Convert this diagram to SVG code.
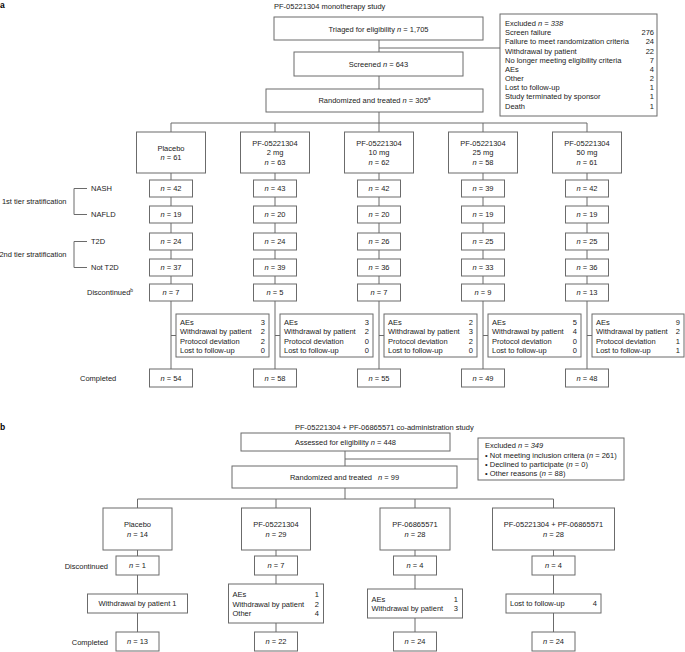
<svg xmlns="http://www.w3.org/2000/svg" width="685" height="652" viewBox="0 0 685 652">
<style>
text{font-family:"Liberation Sans",Arial,Helvetica,sans-serif;font-size:7.5px;fill:#222}
.c{text-anchor:middle}
.e{text-anchor:end}
.i{font-style:italic}
.lbl{font-weight:bold;font-size:8.5px;fill:#000}
.box{fill:#fff;stroke:#6b6b6b;stroke-width:1}
.ln{stroke:#6b6b6b;stroke-width:1;fill:none}
.sup{font-size:5px}
</style>
<rect width="685" height="652" fill="#fff"/>

<!-- ================= PART A ================= -->
<text class="lbl" x="0" y="8">a</text>
<text x="274" y="9">PF-05221304 monotherapy study</text>

<g id="connectors-a">
<path class="ln" d="M379,40V89M379,48H500M379,112V123M171,123H587M171,123V132M275,123V132M379,123V132M483,123V132M587,123V132"/>
<path class="ln" d="M171,173V369M275,173V369M379,173V369M483,173V369M587,173V369"/>
<path class="ln" d="M171,335.5H176M275,335.5H280M379,335.5H384M483,335.5H488M587,335.5H592"/>
<path class="ln" d="M87,188.5H74V214.5H87M87,241.5H74V267.5H87"/>
</g>

<g id="triage"><rect class="box" x="274" y="17" width="209" height="23"/>
<text class="c" x="378.5" y="31.5">Triaged for eligibility <tspan class="i">n</tspan> = 1,705</text></g>
<g id="screened"><rect class="box" x="294" y="52" width="169" height="24"/>
<text class="c" x="378.5" y="66.7">Screened <tspan class="i">n</tspan> = 643</text></g>
<g id="randomized-a"><rect class="box" x="266" y="89" width="217" height="23"/>
<text class="c" x="374.5" y="103">Randomized and treated <tspan class="i">n</tspan> = 305<tspan class="sup" dy="-3">a</tspan></text></g>

<g id="excluded-a"><rect class="box" x="500" y="14" width="157" height="102"/>
<text x="505" y="25.7">Excluded <tspan class="i">n = 338</tspan></text>
<text x="505" y="35.2">Screen failure</text><text class="e" x="654" y="35.2">276</text>
<text x="505" y="44.4">Failure to meet randomization criteria</text><text class="e" x="654" y="44.4">24</text>
<text x="505" y="53.5">Withdrawal by patient</text><text class="e" x="654" y="53.5">22</text>
<text x="505" y="62.7">No longer meeting eligibility criteria</text><text class="e" x="654" y="62.7">7</text>
<text x="505" y="71.9">AEs</text><text class="e" x="654" y="71.9">4</text>
<text x="505" y="81">Other</text><text class="e" x="654" y="81">2</text>
<text x="505" y="90.2">Lost to follow-up</text><text class="e" x="654" y="90.2">1</text>
<text x="505" y="99.4">Study terminated by sponsor</text><text class="e" x="654" y="99.4">1</text>
<text x="505" y="108.5">Death</text><text class="e" x="654" y="108.5">1</text>
</g>

<g id="row-labels-a">
<text class="e" x="66.5" y="204.2">1st tier stratification</text>
<text class="e" x="66.5" y="257.2">2nd tier stratification</text>
<text x="91" y="191.2">NASH</text>
<text x="91" y="217.2">NAFLD</text>
<text x="91" y="244.2">T2D</text>
<text x="91" y="270.2">Not T2D</text>
<text x="87" y="295.2">Discontinued<tspan class="sup" dy="-3">b</tspan></text>
<text x="80" y="380.7">Completed</text>
</g>

<!-- Placebo -->
<g id="arm-a-placebo">
<rect class="box" x="136.5" y="132" width="69" height="41"/>
<text class="c" x="171" y="150.5">Placebo</text><text class="c" x="171" y="160"><tspan class="i">n</tspan> = 61</text>
<rect class="box" x="149.5" y="180" width="43" height="17"/><text class="c" x="171" y="191.2"><tspan class="i">n</tspan> = 42</text>
<rect class="box" x="149.5" y="206" width="43" height="17"/><text class="c" x="171" y="217.2"><tspan class="i">n</tspan> = 19</text>
<rect class="box" x="149.5" y="233" width="43" height="17"/><text class="c" x="171" y="244.2"><tspan class="i">n</tspan> = 24</text>
<rect class="box" x="149.5" y="259" width="43" height="17"/><text class="c" x="171" y="270.2"><tspan class="i">n</tspan> = 37</text>
<rect class="box" x="149.5" y="284" width="43" height="17"/><text class="c" x="171" y="295.2"><tspan class="i">n</tspan> = 7</text>
<rect class="box" x="176" y="314" width="93" height="43"/>
<text x="180" y="324.5">AEs</text><text class="e" x="265" y="324.5">3</text>
<text x="180" y="334">Withdrawal by patient</text><text class="e" x="265" y="334">2</text>
<text x="180" y="343.5">Protocol deviation</text><text class="e" x="265" y="343.5">2</text>
<text x="180" y="353">Lost to follow-up</text><text class="e" x="265" y="353">0</text>
<rect class="box" x="149.5" y="369" width="43" height="18"/><text class="c" x="171" y="380.7"><tspan class="i">n</tspan> = 54</text>
</g>

<!-- 2 mg -->
<g id="arm-a-2mg">
<rect class="box" x="240.5" y="132" width="69" height="41"/>
<text class="c" x="275" y="145.7">PF-05221304</text><text class="c" x="275" y="155.2">2 mg</text><text class="c" x="275" y="164.7"><tspan class="i">n</tspan> = 63</text>
<rect class="box" x="253.5" y="180" width="43" height="17"/><text class="c" x="275" y="191.2"><tspan class="i">n</tspan> = 43</text>
<rect class="box" x="253.5" y="206" width="43" height="17"/><text class="c" x="275" y="217.2"><tspan class="i">n</tspan> = 20</text>
<rect class="box" x="253.5" y="233" width="43" height="17"/><text class="c" x="275" y="244.2"><tspan class="i">n</tspan> = 24</text>
<rect class="box" x="253.5" y="259" width="43" height="17"/><text class="c" x="275" y="270.2"><tspan class="i">n</tspan> = 39</text>
<rect class="box" x="253.5" y="284" width="43" height="17"/><text class="c" x="275" y="295.2"><tspan class="i">n</tspan> = 5</text>
<rect class="box" x="280" y="314" width="93" height="43"/>
<text x="284" y="324.5">AEs</text><text class="e" x="369" y="324.5">3</text>
<text x="284" y="334">Withdrawal by patient</text><text class="e" x="369" y="334">2</text>
<text x="284" y="343.5">Protocol deviation</text><text class="e" x="369" y="343.5">0</text>
<text x="284" y="353">Lost to follow-up</text><text class="e" x="369" y="353">0</text>
<rect class="box" x="253.5" y="369" width="43" height="18"/><text class="c" x="275" y="380.7"><tspan class="i">n</tspan> = 58</text>
</g>

<!-- 10 mg -->
<g id="arm-a-10mg">
<rect class="box" x="344.5" y="132" width="69" height="41"/>
<text class="c" x="379" y="145.7">PF-05221304</text><text class="c" x="379" y="155.2">10 mg</text><text class="c" x="379" y="164.7"><tspan class="i">n</tspan> = 62</text>
<rect class="box" x="357.5" y="180" width="43" height="17"/><text class="c" x="379" y="191.2"><tspan class="i">n</tspan> = 42</text>
<rect class="box" x="357.5" y="206" width="43" height="17"/><text class="c" x="379" y="217.2"><tspan class="i">n</tspan> = 20</text>
<rect class="box" x="357.5" y="233" width="43" height="17"/><text class="c" x="379" y="244.2"><tspan class="i">n</tspan> = 26</text>
<rect class="box" x="357.5" y="259" width="43" height="17"/><text class="c" x="379" y="270.2"><tspan class="i">n</tspan> = 36</text>
<rect class="box" x="357.5" y="284" width="43" height="17"/><text class="c" x="379" y="295.2"><tspan class="i">n</tspan> = 7</text>
<rect class="box" x="384" y="314" width="93" height="43"/>
<text x="388" y="324.5">AEs</text><text class="e" x="473" y="324.5">2</text>
<text x="388" y="334">Withdrawal by patient</text><text class="e" x="473" y="334">3</text>
<text x="388" y="343.5">Protocol deviation</text><text class="e" x="473" y="343.5">2</text>
<text x="388" y="353">Lost to follow-up</text><text class="e" x="473" y="353">0</text>
<rect class="box" x="357.5" y="369" width="43" height="18"/><text class="c" x="379" y="380.7"><tspan class="i">n</tspan> = 55</text>
</g>

<!-- 25 mg -->
<g id="arm-a-25mg">
<rect class="box" x="448.5" y="132" width="69" height="41"/>
<text class="c" x="483" y="145.7">PF-05221304</text><text class="c" x="483" y="155.2">25 mg</text><text class="c" x="483" y="164.7"><tspan class="i">n</tspan> = 58</text>
<rect class="box" x="461.5" y="180" width="43" height="17"/><text class="c" x="483" y="191.2"><tspan class="i">n</tspan> = 39</text>
<rect class="box" x="461.5" y="206" width="43" height="17"/><text class="c" x="483" y="217.2"><tspan class="i">n</tspan> = 19</text>
<rect class="box" x="461.5" y="233" width="43" height="17"/><text class="c" x="483" y="244.2"><tspan class="i">n</tspan> = 25</text>
<rect class="box" x="461.5" y="259" width="43" height="17"/><text class="c" x="483" y="270.2"><tspan class="i">n</tspan> = 33</text>
<rect class="box" x="461.5" y="284" width="43" height="17"/><text class="c" x="483" y="295.2"><tspan class="i">n</tspan> = 9</text>
<rect class="box" x="488" y="314" width="93" height="43"/>
<text x="492" y="324.5">AEs</text><text class="e" x="577" y="324.5">5</text>
<text x="492" y="334">Withdrawal by patient</text><text class="e" x="577" y="334">4</text>
<text x="492" y="343.5">Protocol deviation</text><text class="e" x="577" y="343.5">0</text>
<text x="492" y="353">Lost to follow-up</text><text class="e" x="577" y="353">0</text>
<rect class="box" x="461.5" y="369" width="43" height="18"/><text class="c" x="483" y="380.7"><tspan class="i">n</tspan> = 49</text>
</g>

<!-- 50 mg -->
<g id="arm-a-50mg">
<rect class="box" x="552.5" y="132" width="69" height="41"/>
<text class="c" x="587" y="145.7">PF-05221304</text><text class="c" x="587" y="155.2">50 mg</text><text class="c" x="587" y="164.7"><tspan class="i">n</tspan> = 61</text>
<rect class="box" x="565.5" y="180" width="43" height="17"/><text class="c" x="587" y="191.2"><tspan class="i">n</tspan> = 42</text>
<rect class="box" x="565.5" y="206" width="43" height="17"/><text class="c" x="587" y="217.2"><tspan class="i">n</tspan> = 19</text>
<rect class="box" x="565.5" y="233" width="43" height="17"/><text class="c" x="587" y="244.2"><tspan class="i">n</tspan> = 25</text>
<rect class="box" x="565.5" y="259" width="43" height="17"/><text class="c" x="587" y="270.2"><tspan class="i">n</tspan> = 36</text>
<rect class="box" x="565.5" y="284" width="43" height="17"/><text class="c" x="587" y="295.2"><tspan class="i">n</tspan> = 13</text>
<rect class="box" x="592" y="314" width="92" height="43"/>
<text x="596" y="324.5">AEs</text><text class="e" x="680" y="324.5">9</text>
<text x="596" y="334">Withdrawal by patient</text><text class="e" x="680" y="334">2</text>
<text x="596" y="343.5">Protocol deviation</text><text class="e" x="680" y="343.5">1</text>
<text x="596" y="353">Lost to follow-up</text><text class="e" x="680" y="353">1</text>
<rect class="box" x="565.5" y="369" width="43" height="18"/><text class="c" x="587" y="380.7"><tspan class="i">n</tspan> = 48</text>
</g>

<!-- ================= PART B ================= -->
<text class="lbl" x="0" y="430">b</text>
<text x="295" y="430">PF-05221304 + PF-06865571 co-administration study</text>

<g id="connectors-b">
<path class="ln" d="M345,451V466M345,459H478M345,488V499M137.5,499H553.5M137.5,499V508M276,499V508M415,499V508M553.5,499V508"/>
<path class="ln" d="M137.5,550V632M276,550V632M415,550V632M553.5,550V632"/>
</g>

<g id="assessed"><rect class="box" x="241" y="433" width="209" height="18"/>
<text class="c" x="345.5" y="444.7">Assessed for eligibility <tspan class="i">n</tspan> = 448</text></g>
<g id="randomized-b"><rect class="box" x="232" y="466" width="225" height="22"/>
<text class="c" x="344.5" y="479.7">Randomized and treated<tspan dx="6" class="i">n</tspan> = 99</text></g>
<g id="excluded-b"><rect class="box" x="478" y="438" width="146" height="42"/>
<text x="485" y="448.4">Excluded <tspan class="i">n = 349</tspan></text>
<text x="485" y="457.7">• Not meeting inclusion critera (<tspan class="i">n</tspan> = 261)</text>
<text x="485" y="466.7">• Declined to participate (<tspan class="i">n</tspan> = 0)</text>
<text x="485" y="475.7">• Other reasons (<tspan class="i">n</tspan> = 88)</text>
</g>

<g id="row-labels-b">
<text class="e" x="108" y="568.5">Discontinued</text>
<text class="e" x="108" y="645">Completed</text>
</g>

<g id="arm-b-placebo">
<rect class="box" x="103" y="508" width="69" height="42"/>
<text class="c" x="137.5" y="527">Placebo</text><text class="c" x="137.5" y="536.5"><tspan class="i">n</tspan> = 14</text>
<rect class="box" x="116" y="556" width="43" height="19"/><text class="c" x="137.5" y="568.2"><tspan class="i">n</tspan> = 1</text>
<rect class="box" x="87.5" y="594" width="100" height="19"/><text class="c" x="137.5" y="606.2">Withdrawal by patient 1</text>
<rect class="box" x="116" y="632" width="43" height="19"/><text class="c" x="137.5" y="644.2"><tspan class="i">n</tspan> = 13</text>
</g>

<g id="arm-b-pf05221304">
<rect class="box" x="241.5" y="508" width="69" height="42"/>
<text class="c" x="276" y="527">PF-05221304</text><text class="c" x="276" y="536.5"><tspan class="i">n</tspan> = 29</text>
<rect class="box" x="254.5" y="556" width="43" height="19"/><text class="c" x="276" y="568.2"><tspan class="i">n</tspan> = 7</text>
<rect class="box" x="228.5" y="584" width="95" height="39"/>
<text x="232.5" y="597">AEs</text><text class="e" x="319" y="597">1</text>
<text x="232.5" y="606.5">Withdrawal by patient</text><text class="e" x="319" y="606.5">2</text>
<text x="232.5" y="615.5">Other</text><text class="e" x="319" y="615.5">4</text>
<rect class="box" x="254.5" y="632" width="43" height="19"/><text class="c" x="276" y="644.2"><tspan class="i">n</tspan> = 22</text>
</g>

<g id="arm-b-pf06865571">
<rect class="box" x="380" y="508" width="70" height="42"/>
<text class="c" x="415" y="527">PF-06865571</text><text class="c" x="415" y="536.5"><tspan class="i">n</tspan> = 28</text>
<rect class="box" x="393.5" y="556" width="43" height="19"/><text class="c" x="415" y="568.2"><tspan class="i">n</tspan> = 4</text>
<rect class="box" x="367.5" y="589" width="95" height="29"/>
<text x="371.5" y="601.5">AEs</text><text class="e" x="458" y="601.5">1</text>
<text x="371.5" y="610.5">Withdrawal by patient</text><text class="e" x="458" y="610.5">3</text>
<rect class="box" x="393.5" y="632" width="43" height="19"/><text class="c" x="415" y="644.2"><tspan class="i">n</tspan> = 24</text>
</g>

<g id="arm-b-combo">
<rect class="box" x="492.5" y="508" width="122" height="42"/>
<text class="c" x="553.5" y="527">PF-05221304 + PF-06865571</text><text class="c" x="553.5" y="536.5"><tspan class="i">n</tspan> = 28</text>
<rect class="box" x="532" y="556" width="43" height="19"/><text class="c" x="553.5" y="568.2"><tspan class="i">n</tspan> = 4</text>
<rect class="box" x="506" y="594" width="95" height="19"/>
<text x="510" y="606.2">Lost to follow-up</text><text class="e" x="597" y="606.2">4</text>
<rect class="box" x="532" y="632" width="43" height="19"/><text class="c" x="553.5" y="644.2"><tspan class="i">n</tspan> = 24</text>
</g>
</svg>
